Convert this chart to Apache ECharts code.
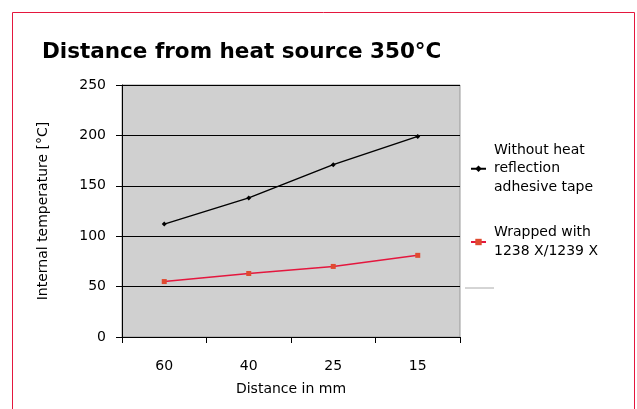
<!DOCTYPE html>
<html><head><meta charset="utf-8">
<script src="https://cdn.jsdelivr.net/npm/echarts@6/dist/echarts.min.js"></script>
<style>html,body{margin:0;padding:0;background:#fff}#c{width:637px;height:409px}</style>
</head><body><div id="c"></div>
<script>
const categories = ['60', '40', '25', '15'];
const withoutTape = [112, 138, 171, 199];
const wrapped = [55, 63, 70, 81];
const seriesNames = ['Without heat\nreflection\nadhesive tape', 'Wrapped with\n1238 X/1239 X'];
const yTicks = {min: 0, max: 250, interval: 50};

const chart = echarts.init(document.getElementById('c'));
const font = 'DejaVu Sans, sans-serif';
chart.setOption({
  animation: false,
  backgroundColor: '#fff',
  title: {
    text: 'Distance from heat source 350°C',
    left: 37, top: 36,
    textStyle: {fontFamily: font, fontWeight: 'bold', fontSize: 21.5, color: '#000'}
  },
  graphic: [
    {type: 'rect', shape: {x: 12.5, y: 12.5, width: 622, height: 420}, style: {fill: 'none', stroke: '#e4173e', lineWidth: 1}},
    {type: 'line', shape: {x1: 465, y1: 288, x2: 494, y2: 288}, style: {stroke: '#aaa', lineWidth: 1}}
  ],
  grid: {left: 122, top: 85, width: 338, height: 252, backgroundColor: '#d0d0d0', show: true, borderColor: '#999', borderWidth: 1},
  legend: {
    orient: 'vertical', left: 465, top: 136, itemGap: 27, itemWidth: 15, itemHeight: 8,
    textStyle: {fontFamily: font, fontSize: 14, color: '#000', lineHeight: 18.5, padding: [0, 0, 0, 3]},
    data: seriesNames
  },
  xAxis: {
    type: 'category', data: categories, boundaryGap: true,
    name: 'Distance in mm', nameLocation: 'middle', nameGap: 45,
    nameTextStyle: {fontFamily: font, fontSize: 14, color: '#000'},
    axisLine: {lineStyle: {color: '#000'}},
    axisTick: {show: true, length: 6, lineStyle: {color: '#000'}},
    axisLabel: {fontFamily: font, fontSize: 14, color: '#000', margin: 22}
  },
  yAxis: {
    type: 'value', min: yTicks.min, max: yTicks.max, interval: yTicks.interval,
    name: 'Internal temperature [°C]', nameLocation: 'middle', nameGap: 72,
    nameTextStyle: {fontFamily: font, fontSize: 14, color: '#000'},
    axisLine: {show: true, lineStyle: {color: '#000'}},
    axisTick: {show: true, length: 6, lineStyle: {color: '#000'}},
    axisLabel: {fontFamily: font, fontSize: 14, color: '#000', margin: 16},
    splitLine: {lineStyle: {color: '#000', width: 1}}
  },
  series: [
    {name: seriesNames[0], type: 'line', data: withoutTape, symbol: 'diamond', symbolSize: 5,
     lineStyle: {color: '#000', width: 1.5}, itemStyle: {color: '#000'}},
    {name: seriesNames[1], type: 'line', data: wrapped, symbol: 'rect', symbolSize: 5,
     lineStyle: {color: '#e4173e', width: 1.5}, itemStyle: {color: '#e04a30'}}
  ]
});
</script></body></html>
